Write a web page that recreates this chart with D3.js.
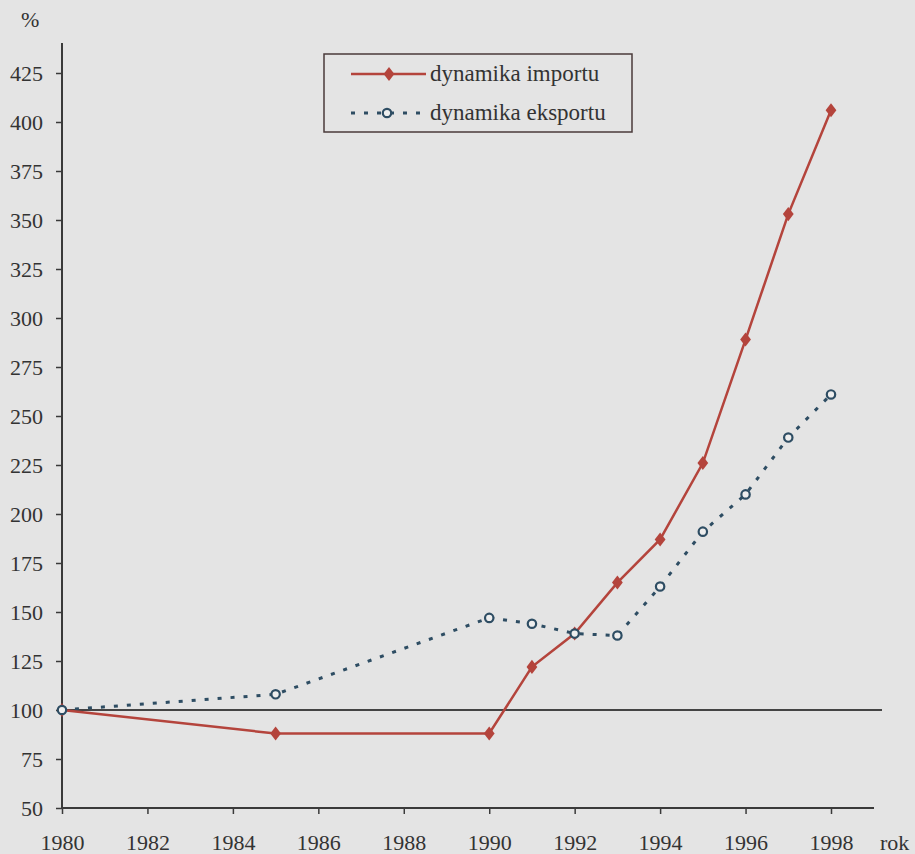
<!DOCTYPE html>
<html><head><meta charset="utf-8">
<script src="https://cdn.jsdelivr.net/npm/d3@7"></script>
<style>body{margin:0;background:#e3e3e3;} svg{display:block;} text{font-family:"Liberation Serif","Times New Roman","DejaVu Serif",serif;}</style>
</head><body>
<svg id="c" width="915" height="854"></svg>
<script>
const years = [1980, 1985, 1990, 1991, 1992, 1993, 1994, 1995, 1996, 1997, 1998];
const importValues = [100, 88, 88, 122, 139, 165, 187, 226, 289, 353, 406];
const exportValues = [100, 108, 147, 144, 139, 138, 163, 191, 210, 239, 261];
const xTicks = [1980, 1982, 1984, 1986, 1988, 1990, 1992, 1994, 1996, 1998];
const yTicks = [50, 75, 100, 125, 150, 175, 200, 225, 250, 275, 300, 325, 350, 375, 400, 425];
const seriesNames = ["dynamika importu", "dynamika eksportu"];

const svg = d3.select("#c");
const W = 915, H = 854;
svg.append("rect").attr("width", W).attr("height", H).attr("fill", "#e4e4e4");

const x = d3.scaleLinear().domain([1980, 1998]).range([62, 831]);
const y = d3.scaleLinear().domain([50, 425]).range([808, 73]);
const axisColor = "#3a3a3a";
const font = '"Liberation Serif", "Times New Roman", "DejaVu Serif", serif';

// axes
const xAxis = svg.append("g").attr("transform", "translate(0,808)")
  .call(d3.axisBottom(x).tickValues(xTicks).tickFormat(d3.format("d")).tickSize(6).tickSizeOuter(0));
xAxis.attr("font-family", null);
xAxis.select(".domain").remove();
svg.append("line").attr("x1", 62).attr("x2", 874).attr("y1", 808).attr("y2", 808)
  .attr("stroke", axisColor).attr("stroke-width", 2);
xAxis.selectAll("line").attr("stroke", axisColor).attr("stroke-width", 1.5);
xAxis.selectAll("text").style("font-family", font).attr("font-size", 22).attr("fill", "#333")
  .attr("dy", null).attr("y", 42);

const yAxis = svg.append("g").attr("transform", "translate(62,0)")
  .call(d3.axisLeft(y).tickValues(yTicks).tickSize(6).tickSizeOuter(0));
yAxis.attr("font-family", null);
yAxis.select(".domain").remove();
svg.append("line").attr("x1", 62).attr("x2", 62).attr("y1", 43).attr("y2", 808)
  .attr("stroke", axisColor).attr("stroke-width", 2);
yAxis.selectAll("line").attr("stroke", axisColor).attr("stroke-width", 1.5);
yAxis.selectAll("text").style("font-family", font).attr("font-size", 22).attr("fill", "#333")
  .attr("x", -19).attr("dy", "0.35em");

svg.append("text").attr("x", 21).attr("y", 27).style("font-family", font).attr("font-size", 22)
  .attr("fill", "#333").text("%");
svg.append("text").attr("x", 880).attr("y", 850).style("font-family", font).attr("font-size", 22)
  .attr("fill", "#333").text("rok");

// reference line at 100
svg.append("line").attr("x1", 62).attr("x2", 882).attr("y1", y(100)).attr("y2", y(100))
  .attr("stroke", "#444").attr("stroke-width", 2);

const red = "#b4443c", blue = "#2e4d63";
const imp = years.map((d, i) => [d, importValues[i]]);
const exp = years.map((d, i) => [d, exportValues[i]]);
const line = d3.line().x(d => x(d[0])).y(d => y(d[1]));

// export dotted
svg.append("path").datum(exp).attr("d", line).attr("fill", "none")
  .attr("stroke", blue).attr("stroke-width", 3).attr("stroke-dasharray", "4,9");
// import solid
svg.append("path").datum(imp).attr("d", line).attr("fill", "none")
  .attr("stroke", red).attr("stroke-width", 2.5);

const diamond = d3.symbol().type(d3.symbolDiamond).size(70);
svg.append("g").selectAll("path").data(imp).join("path")
  .attr("d", diamond).attr("transform", d => `translate(${x(d[0])},${y(d[1])}) scale(1.2,0.9)`)
  .attr("fill", red);
svg.append("g").selectAll("circle").data(exp).join("circle")
  .attr("cx", d => x(d[0])).attr("cy", d => y(d[1])).attr("r", 4.2)
  .attr("fill", "#eeeeee").attr("stroke", blue).attr("stroke-width", 2.2);

// legend
const lg = svg.append("g");
lg.append("rect").attr("x", 324).attr("y", 54).attr("width", 308).attr("height", 78)
  .attr("fill", "none").attr("stroke", "#4a3a3a").attr("stroke-width", 1.5);
lg.append("line").attr("x1", 351).attr("x2", 426).attr("y1", 74).attr("y2", 74)
  .attr("stroke", red).attr("stroke-width", 2.5);
lg.append("path").attr("d", diamond).attr("transform", "translate(389,74) scale(1.2,0.9)").attr("fill", red);
lg.append("line").attr("x1", 351).attr("x2", 426).attr("y1", 113).attr("y2", 113)
  .attr("stroke", blue).attr("stroke-width", 3).attr("stroke-dasharray", "4,9");
lg.append("circle").attr("cx", 387).attr("cy", 113).attr("r", 4.2)
  .attr("fill", "#eeeeee").attr("stroke", blue).attr("stroke-width", 2.2);
lg.selectAll("text.lt").data(seriesNames).join("text")
  .attr("x", 430).attr("y", (d, i) => 81 + i * 39)
  .style("font-family", font).attr("font-size", 23).attr("fill", "#333").text(d => d);
</script>
</body></html>
